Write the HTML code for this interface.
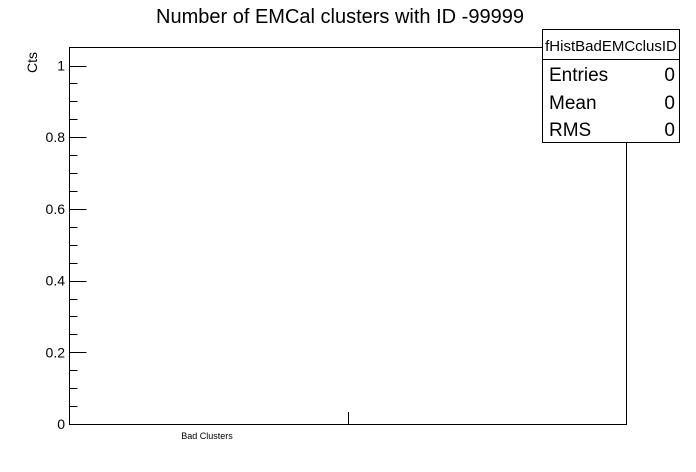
<!DOCTYPE html>
<html><head><meta charset="utf-8"><style>
body{margin:0;background:#fff;}
svg{display:block;font-family:"Liberation Sans",sans-serif;}
</style></head><body>
<svg width="696" height="472" viewBox="0 0 696 472">
<rect x="0" y="0" width="696" height="472" fill="#fff"/>
<text x="340" y="23" text-anchor="middle" font-size="20">Number of EMCal clusters with ID -99999</text>
<rect x="69.5" y="47.5" width="557" height="377" fill="none" stroke="#000" stroke-width="1"/>
<g id="yaxis"></g>
<text transform="translate(37,52) rotate(-90)" text-anchor="end" font-size="14">Cts</text>
<line x1="348.5" y1="412" x2="348.5" y2="424" stroke="#000"/>
<text x="207" y="439" text-anchor="middle" font-size="9">Bad Clusters</text>
<g>
<rect x="542.5" y="29.5" width="137" height="113" fill="#fff" stroke="#000"/>
<line x1="542.5" y1="59.5" x2="679.5" y2="59.5" stroke="#000"/>
<text x="611" y="51" text-anchor="middle" font-size="15">fHistBadEMCclusID</text>
<text x="549" y="81" font-size="19">Entries</text>
<text x="675" y="81" text-anchor="end" font-size="19">0</text>
<text x="549" y="109" font-size="19">Mean</text>
<text x="675" y="109" text-anchor="end" font-size="19">0</text>
<text x="549" y="136" font-size="19">RMS</text>
<text x="675" y="136" text-anchor="end" font-size="19">0</text>
</g>
</svg>
<script>
const yTickValues=[0,0.2,0.4,0.6,0.8,1];
const yTickLabels=["0","0.2","0.4","0.6","0.8","1"];
const yMin=0,yMax=1;
function yScale(v){return 424-(v-yMin)/(yMax-yMin)*358.5;}
const g=document.getElementById('yaxis');
const NS="http://www.w3.org/2000/svg";
for(let i=0;i<=20;i++){
  const v=i*0.05;
  const y=Math.round(yScale(v))+0.5;
  const major=i%4===0;
  const l=document.createElementNS(NS,'line');
  l.setAttribute('x1',69.5);l.setAttribute('x2',69.5+(major?17:8));
  l.setAttribute('y1',y);l.setAttribute('y2',y);l.setAttribute('stroke','#000');
  
  
  g.appendChild(l);
}
yTickValues.forEach((v,i)=>{
  const t=document.createElementNS(NS,'text');
  t.setAttribute('x',65);t.setAttribute('y',yScale(v)+5);
  t.setAttribute('text-anchor','end');t.setAttribute('font-size','14');
  t.textContent=yTickLabels[i];
  
  
  g.appendChild(t);
});
</script>
</body></html>
